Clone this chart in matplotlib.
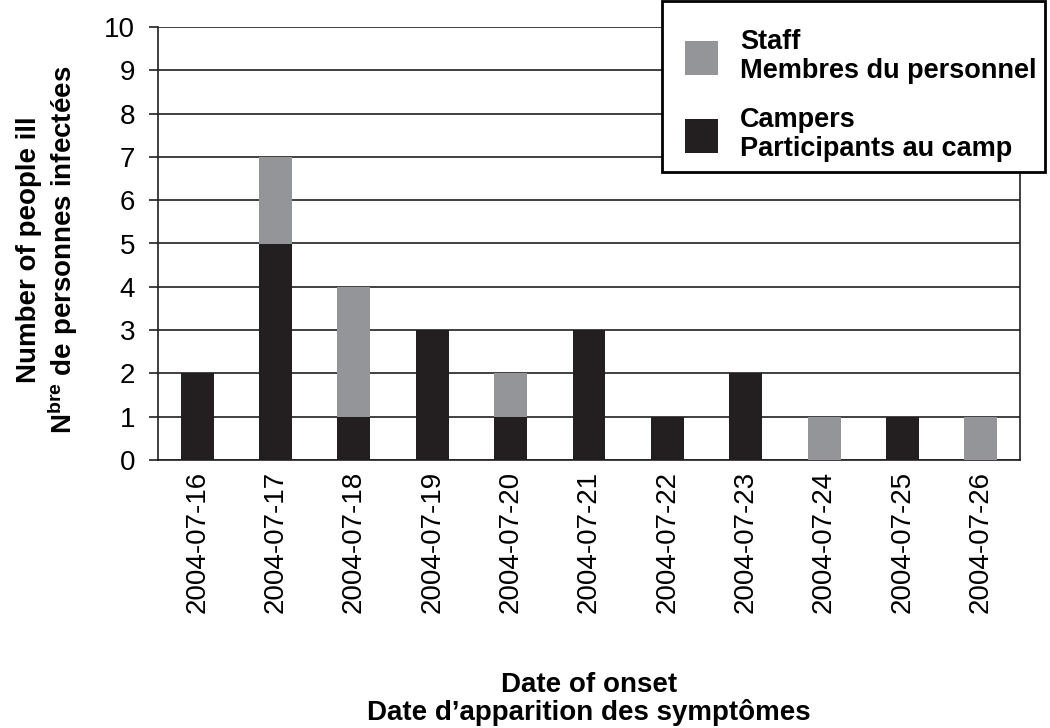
import matplotlib.pyplot as plt
import numpy as np
from matplotlib.patches import Rectangle

plt.rcParams["font.family"] = ["Liberation Sans", "DejaVu Sans"]
plt.rcParams["mathtext.default"] = "regular"

dates = ["2004-07-16", "2004-07-17", "2004-07-18", "2004-07-19", "2004-07-20",
         "2004-07-21", "2004-07-22", "2004-07-23", "2004-07-24", "2004-07-25",
         "2004-07-26"]
campers = [2, 5, 1, 3, 1, 3, 1, 2, 0, 1, 0]
staff = [0, 2, 3, 0, 1, 0, 0, 0, 1, 0, 1]

BLACK = "#231f20"
GREY = "#939598"
W, H = 1050, 728

fig = plt.figure(figsize=(W / 100, H / 100), dpi=100)
ax = fig.add_axes([158 / W, 1 - 460 / H, (1020 - 158) / W, (460 - 27) / H])

x = np.arange(len(dates))
b1 = ax.bar(x, campers, width=0.42, color=BLACK, zorder=3)
b2 = ax.bar(x, staff, width=0.42, bottom=campers, color=GREY, zorder=3)

ax.set_xlim(-0.5, len(dates) - 0.5)
ax.set_ylim(0, 10)
ax.set_yticks(range(0, 11))
ax.yaxis.grid(True, color=BLACK, linewidth=1.2, zorder=0)
ax.set_axisbelow(True)
ax.set_xticks(x, dates, rotation=90)
ax.tick_params(axis="x", length=0, pad=8, labelsize=20)
ax.tick_params(axis="y", length=6.5, width=1.2, pad=10, labelsize=20, color=BLACK)
for s in ax.spines.values():
    s.set_color(BLACK)
    s.set_linewidth(1.2)
ax.spines["top"].set_visible(False)

fig.text(48 / W, 1 - 250 / H, "Number of people ill\nN$^{bre}$ de personnes infectées",
         rotation=90, ha="center", va="center", fontsize=20, fontweight="bold",
         linespacing=1.15, multialignment="center")
fig.text(589 / W, 1 - 699 / H, "Date of onset\nDate d’apparition des symptômes",
         ha="center", va="center", fontsize=20, fontweight="bold", linespacing=1.0)

# legend box, drawn separately so the padding can match the original
fig.patches.append(Rectangle((662 / W, 1 - 172 / H), (1045 - 662) / W, 171 / H,
                             transform=fig.transFigure, facecolor="white",
                             edgecolor="black", linewidth=2, zorder=4))
leg = fig.legend([b2, b1], ["Staff\nMembres du personnel", "Campers\nParticipants au camp"],
                 loc="upper left", bbox_to_anchor=(685 / W, 1 - 29 / H),
                 frameon=False, borderaxespad=0, borderpad=0,
                 prop={"size": 19.5, "weight": "bold"}, handlelength=1.23,
                 handleheight=1.55, handletextpad=0.8, labelspacing=0.85)
leg.set_zorder(6)
for t in leg.get_texts():
    t.set_linespacing(1.15)

fig.savefig("out.png", dpi=100)
